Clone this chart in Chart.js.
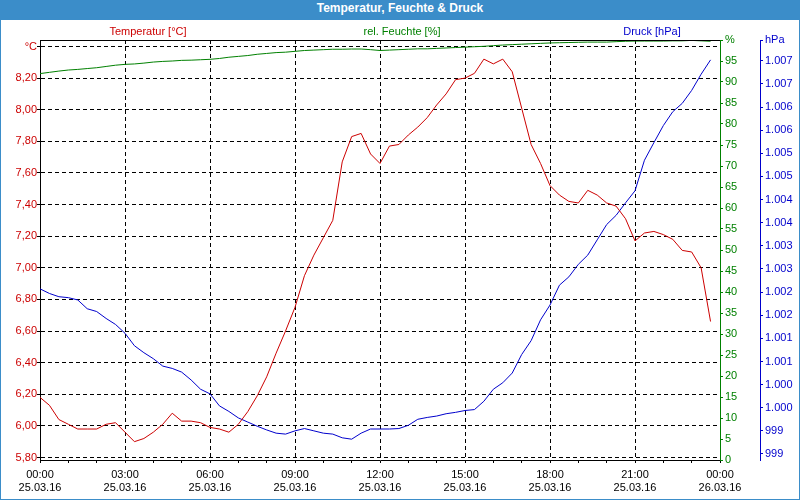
<!DOCTYPE html>
<html lang="de">
<head>
<meta charset="utf-8">
<title>Temperatur, Feuchte & Druck</title>
<script src="https://cdn.jsdelivr.net/npm/chart.js@4.4.1/dist/chart.umd.min.js"></script>
<style>
  html, body { margin: 0; padding: 0; background: #fff; }
  #rahmen {
    position: relative; width: 800px; height: 500px; box-sizing: border-box;
    border: 1px solid #3b8dc9; background: #fff;
  }
  #titel {
    height: 19px; line-height: 19px; background: #3b8dc9; color: #fff;
    font: bold 12px "Liberation Sans", Arial, sans-serif; text-align: center;
  }
  #diagramm { display: block; }
</style>
</head>
<body>
<div id="rahmen">
  <div id="titel">Temperatur, Feuchte &amp; Druck</div>
  <canvas id="diagramm" width="798" height="479"></canvas>
</div>
<script>
// Messzeitpunkte (alle 20 Minuten)
const zeiten = ['00:00','00:20','00:40','01:00','01:20','01:40','02:00','02:20','02:40',
  '03:00','03:20','03:40','04:00','04:20','04:40','05:00','05:20','05:40',
  '06:00','06:20','06:40','07:00','07:20','07:40','08:00','08:20','08:40',
  '09:00','09:20','09:40','10:00','10:20','10:40','11:00','11:20','11:40',
  '12:00','12:20','12:40','13:00','13:20','13:40','14:00','14:20','14:40',
  '15:00','15:20','15:40','16:00','16:20','16:40','17:00','17:20','17:40',
  '18:00','18:20','18:40','19:00','19:20','19:40','20:00','20:20','20:40',
  '21:00','21:20','21:40','22:00','22:20','22:40','23:00','23:20','23:40','24:00'];

// Beschriftung der x-Achse (alle 3 Stunden)
const achsenZeiten = [['00:00','25.03.16'], ['03:00','25.03.16'], ['06:00','25.03.16'],
  ['09:00','25.03.16'], ['12:00','25.03.16'], ['15:00','25.03.16'],
  ['18:00','25.03.16'], ['21:00','25.03.16'], ['00:00','26.03.16']];

const temperatur = [6.18, 6.13, 6.04, 6.01, 5.98, 5.98, 5.98, 6.01, 6.02,
  5.96, 5.90, 5.92, 5.96, 6.01, 6.08, 6.03, 6.03, 6.02,
  5.99, 5.98, 5.96, 6.01, 6.09, 6.19, 6.31, 6.46, 6.60,
  6.75, 6.95, 7.08, 7.19, 7.30, 7.67, 7.83, 7.85, 7.72,
  7.66, 7.77, 7.78, 7.84, 7.89, 7.95, 8.03, 8.10, 8.19,
  8.20, 8.23, 8.32, 8.29, 8.32, 8.24, 8.01, 7.78, 7.66,
  7.52, 7.46, 7.42, 7.41, 7.49, 7.46, 7.41, 7.39, 7.31,
  7.17, 7.22, 7.23, 7.21, 7.18, 7.11, 7.10, 7.00, 6.66, null];

const feuchte = [92.0, 92.3, 92.6, 92.85, 93.0, 93.2, 93.4, 93.7, 94.0,
  94.2, 94.3, 94.5, 94.75, 94.9, 95.0, 95.15, 95.2, 95.3,
  95.4, 95.6, 95.9, 96.1, 96.3, 96.6, 96.8, 97.0, 97.1,
  97.3, 97.5, 97.6, 97.7, 97.8, 97.8, 97.85, 97.85, 97.7,
  97.5, 97.6, 97.7, 97.8, 97.9, 97.9, 98.0, 98.1, 98.2,
  98.3, 98.4, 98.5, 98.65, 98.8, 98.9, 99.0, 99.1, 99.2,
  99.3, 99.35, 99.4, 99.45, 99.5, 99.5, 99.5, 99.6, 99.7,
  99.75, 99.75, 99.75, 99.75, 99.8, 99.8, 99.9, 99.8, 99.7, null];

const druck = [1002.07, 1001.97, 1001.90, 1001.88, 1001.83, 1001.64, 1001.58, 1001.43, 1001.30,
  1001.11, 1000.84, 1000.69, 1000.56, 1000.40, 1000.35, 1000.27, 1000.10, 999.90,
  999.80, 999.54, 999.42, 999.28, 999.19, 999.10, 999.02, 998.95, 998.93,
  999.00, 999.05, 999.00, 998.95, 998.93, 998.85, 998.82, 998.95, 999.04,
  999.04, 999.04, 999.05, 999.12, 999.25, 999.29, 999.32, 999.37, 999.40,
  999.44, 999.46, 999.64, 999.90, 1000.04, 1000.25, 1000.65, 1000.95, 1001.40,
  1001.72, 1002.15, 1002.33, 1002.60, 1002.80, 1003.13, 1003.46, 1003.66, 1003.93,
  1004.19, 1004.85, 1005.23, 1005.60, 1005.90, 1006.08, 1006.36, 1006.71, 1007.02, null];

// Tick-Positionen; der letzte Wert traegt jeweils die Einheit
const tempTicks = [5.8, 6.0, 6.2, 6.4, 6.6, 6.8, 7.0, 7.2, 7.4, 7.6, 7.8, 8.0, 8.2, 8.4];
const feuchteTicks = [0, 5, 10, 15, 20, 25, 30, 35, 40, 45, 50, 55, 60, 65, 70, 75, 80, 85, 90, 95, 100];
const druckTicks = [998.5, 999, 999.5, 1000, 1000.5, 1001, 1001.5, 1002, 1002.5, 1003,
  1003.5, 1004, 1004.5, 1005, 1005.5, 1006, 1006.5, 1007, 1007.45];

const ROT = '#cc0000', GRUEN = '#008000', BLAU = '#0000cc';

Chart.defaults.font.family = '"Liberation Sans", Arial, sans-serif';
Chart.defaults.font.size = 11;

function hpaText(v) {
    const r = Math.round(v);
    if (r < 1000) return String(r);
    return Math.floor(r / 1000) + '.' + String(r % 1000).padStart(3, '0');
}

function setzeTicks(liste) {
    return scale => { scale.ticks = liste.map(v => ({ value: v })); };
}

// Achsentitel ueber dem Diagramm und obere Rahmenlinie
const kopfzeile = {
    id: 'kopfzeile',
    afterDraw(chart) {
        const { ctx, chartArea } = chart;
        ctx.save();
        ctx.strokeStyle = '#000';
        ctx.lineWidth = 1;
        ctx.beginPath();
        ctx.moveTo(chartArea.left, chartArea.top + 0.5);
        ctx.lineTo(chartArea.right, chartArea.top + 0.5);
        ctx.stroke();

        const mitten = [147, 401, 651];
        ctx.font = '11px "Liberation Sans", Arial, sans-serif';
        ctx.textAlign = 'center';
        ctx.textBaseline = 'middle';
        chart.data.datasets.forEach((ds, i) => {
            ctx.fillStyle = ds.borderColor;
            ctx.fillText(ds.label, mitten[i], 12);
        });
        ctx.restore();
    }
};

const ctx = document.getElementById('diagramm').getContext('2d');

new Chart(ctx, {
    type: 'line',
    data: {
        labels: zeiten,
        datasets: [
            { label: 'Temperatur [°C]', data: temperatur, yAxisID: 'y', borderColor: ROT },
            { label: 'rel. Feuchte [%]', data: feuchte, yAxisID: 'yH', borderColor: GRUEN },
            { label: 'Druck [hPa]', data: druck, yAxisID: 'yP', borderColor: BLAU }
        ]
    },
    options: {
        responsive: false,
        animation: false,
        layout: { padding: { top: 20, left: 0, right: 0, bottom: 0 } },
        elements: {
            line: { borderWidth: 1, tension: 0 },
            point: { radius: 0 }
        },
        plugins: {
            legend: { display: false },
            tooltip: { enabled: false }
        },
        scales: {
            x: {
                afterFit: s => { s.height = 39; },
                border: { color: '#000', dash: [4, 3] },
                grid: {
                    color: c => (c.index % 9 === 0 && c.index > 0 && c.index < 72) ? '#000' : 'transparent',
                    tickColor: c => c.index % 3 === 0 ? '#000' : 'transparent',
                    tickLength: 3
                },
                ticks: {
                    autoSkip: false,
                    maxRotation: 0,
                    padding: 5,
                    color: '#000',
                    font: { size: 11, lineHeight: 1.2 },
                    callback: (v, i) => i % 9 === 0 ? achsenZeiten[i / 9] : ''
                }
            },
            y: {
                position: 'left',
                min: 5.784,
                max: 8.441,
                afterFit: s => { s.width = 39; },
                afterBuildTicks: setzeTicks(tempTicks),
                border: { color: '#000', dash: [4, 3] },
                grid: { color: '#000', tickColor: '#000', tickLength: 3 },
                ticks: {
                    color: ROT,
                    padding: 0,
                    callback: (v, i, t) => i === t.length - 1 ? '°C' : v.toFixed(2).replace('.', ',')
                }
            },
            yH: {
                position: 'right',
                weight: 0,
                min: 0,
                max: 100,
                afterFit: s => { s.width = 40; },
                afterBuildTicks: setzeTicks(feuchteTicks),
                border: { color: GRUEN },
                grid: { drawOnChartArea: false, color: GRUEN, tickLength: 3 },
                ticks: {
                    color: GRUEN,
                    padding: 2,
                    callback: (v, i, t) => i === t.length - 1 ? '%' : String(v)
                }
            },
            yP: {
                position: 'right',
                weight: 1,
                min: 998.37,
                max: 1007.45,
                afterFit: s => { s.width = 39; },
                afterBuildTicks: setzeTicks(druckTicks),
                border: { color: BLAU },
                grid: { drawOnChartArea: false, color: BLAU, tickLength: 3 },
                ticks: {
                    color: BLAU,
                    padding: 2,
                    callback: (v, i, t) => i === t.length - 1 ? 'hPa' : hpaText(v)
                }
            }
        }
    },
    plugins: [kopfzeile]
});
</script>
</body>
</html>
